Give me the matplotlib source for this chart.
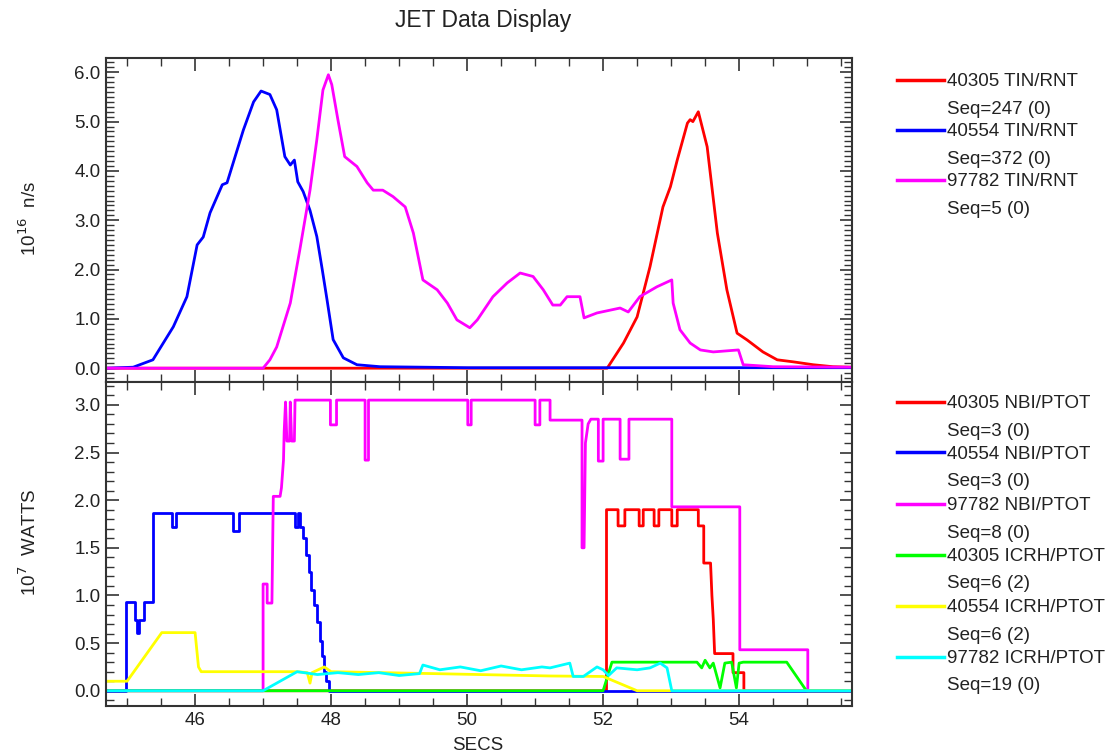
import numpy as np
import matplotlib.pyplot as plt
from matplotlib.lines import Line2D
from matplotlib.ticker import MultipleLocator

plt.rcParams['font.family'] = ['Liberation Sans', 'DejaVu Sans']

# neutron rate, 10^16 n/s
t_red_n = [44.69, 52.06, 52.3, 52.5, 52.69, 52.88, 52.99, 53.09, 53.24, 53.28, 53.32, 53.40,
           53.53, 53.68, 53.82, 53.97, 54.12, 54.35, 54.56, 54.79, 55.09, 55.38, 55.66]
y_red_n = [0.0, 0.0, 0.51, 1.04, 2.06, 3.27, 3.68, 4.22, 4.97, 5.04, 5.0, 5.2,
           4.49, 2.74, 1.59, 0.71, 0.57, 0.33, 0.17, 0.13, 0.07, 0.03, 0.02]

t_blue_n = [44.69, 45.09, 45.38, 45.68, 45.88, 46.03, 46.12, 46.22, 46.40, 46.47, 46.62, 46.71,
            46.86, 46.97, 47.1, 47.2, 47.32, 47.4, 47.46, 47.51, 47.59, 47.69, 47.79, 47.87,
            47.94, 48.03, 48.18, 48.38, 48.72, 50.0, 55.66]
y_blue_n = [0.0, 0.02, 0.17, 0.84, 1.45, 2.5, 2.66, 3.15, 3.72, 3.76, 4.43, 4.83,
            5.4, 5.62, 5.55, 5.24, 4.29, 4.12, 4.22, 3.78, 3.58, 3.2, 2.67, 2.0,
            1.39, 0.58, 0.21, 0.07, 0.03, 0.01, 0.01]

t_mag_n = [44.69, 47.0, 47.1, 47.2, 47.4, 47.54, 47.69, 47.79, 47.88, 47.96, 48.01, 48.1,
           48.2, 48.38, 48.53, 48.62, 48.76, 48.91, 49.09, 49.21, 49.35, 49.56, 49.71, 49.85,
           50.04, 50.15, 50.38, 50.59, 50.78, 50.97, 51.12, 51.26, 51.37, 51.47, 51.66, 51.72,
           51.91, 52.25, 52.37, 52.54, 52.79, 53.01, 53.03, 53.13, 53.28, 53.43, 53.62, 53.99,
           54.06, 54.5, 55.66]
y_mag_n = [0.0, 0.0, 0.17, 0.43, 1.32, 2.4, 3.61, 4.63, 5.64, 5.95, 5.75, 5.04,
           4.29, 4.09, 3.76, 3.61, 3.61, 3.48, 3.27, 2.74, 1.79, 1.59, 1.32, 0.98,
           0.82, 0.98, 1.45, 1.73, 1.93, 1.86, 1.59, 1.28, 1.28, 1.45, 1.45, 1.02,
           1.12, 1.22, 1.14, 1.45, 1.65, 1.79, 1.32, 0.78, 0.51, 0.37, 0.33, 0.37,
           0.07, 0.03, 0.02]

# heating power, 10^7 W
t_red_p = [44.69, 52.05, 52.05, 52.22, 52.22, 52.32, 52.32, 52.53, 52.53, 52.59, 52.59,
           52.75, 52.75, 52.82, 52.82, 53.01, 53.01, 53.09, 53.09, 53.40, 53.40, 53.48,
           53.48, 53.58, 53.60, 53.62, 53.64, 53.91, 53.91, 54.07, 54.07, 55.66]
y_red_p = [0.0, 0.0, 1.90, 1.90, 1.73, 1.73, 1.90, 1.90, 1.73, 1.73, 1.90,
           1.90, 1.73, 1.73, 1.90, 1.90, 1.73, 1.73, 1.90, 1.90, 1.73, 1.73,
           1.34, 1.34, 1.0, 0.75, 0.39, 0.39, 0.19, 0.19, 0.0, 0.0]

# blue beam power steps down in a staircase after 47.5 s
t_blue_p = [44.69, 44.99, 44.99, 45.12, 45.12, 45.15, 45.15, 45.18, 45.18, 45.25, 45.25,
            45.38, 45.38, 45.66, 45.66, 45.72, 45.72, 46.56, 46.56, 46.65, 46.65, 47.47,
            47.47, 47.52, 47.52, 47.55, 47.55, 47.59, 47.59, 47.63, 47.63, 47.67, 47.67,
            47.71, 47.71, 47.75, 47.75, 47.79, 47.79, 47.83, 47.83, 47.87, 47.87, 47.90,
            47.90, 47.93, 47.93, 47.97, 47.97, 55.66]
y_blue_p = [0.0, 0.0, 0.93, 0.93, 0.74, 0.74, 0.61, 0.61, 0.74, 0.74, 0.93,
            0.93, 1.87, 1.87, 1.72, 1.72, 1.87, 1.87, 1.68, 1.68, 1.87, 1.87,
            1.72, 1.72, 1.87, 1.87, 1.72, 1.72, 1.60, 1.60, 1.42, 1.42, 1.25,
            1.25, 1.06, 1.06, 0.90, 0.90, 0.72, 0.72, 0.52, 0.52, 0.36, 0.36,
            0.20, 0.20, 0.10, 0.10, 0.0, 0.0]

t_mag_p = [44.69, 47.0, 47.0, 47.06, 47.06, 47.13, 47.15, 47.25, 47.27, 47.30, 47.31, 47.33,
           47.35, 47.39, 47.40, 47.42, 47.46, 47.47, 47.99, 47.99, 48.08, 48.08, 48.5, 48.5,
           48.55, 48.55, 50.01, 50.01, 50.06, 50.06, 51.0, 51.0, 51.07, 51.07, 51.22, 51.22,
           51.69, 51.69, 51.72, 51.74, 51.78, 51.82, 51.93, 51.93, 52.0, 52.0, 52.25, 52.25,
           52.38, 52.38, 53.01, 53.01, 54.01, 54.01, 55.01, 55.01, 55.66]
y_mag_p = [0.0, 0.0, 1.12, 1.12, 0.92, 0.92, 2.04, 2.04, 2.13, 2.42, 2.72, 3.03,
           2.62, 2.62, 3.03, 2.62, 2.62, 3.05, 3.05, 2.79, 2.79, 3.05, 3.05, 2.42,
           2.42, 3.05, 3.05, 2.79, 2.79, 3.05, 3.05, 2.79, 2.79, 3.05, 3.05, 2.84,
           2.84, 1.5, 1.5, 2.6, 2.8, 2.85, 2.85, 2.41, 2.41, 2.85, 2.85, 2.43,
           2.43, 2.85, 2.85, 1.93, 1.93, 0.43, 0.43, 0.0, 0.0]

t_green_p = [44.69, 52.0, 52.13, 53.38, 53.45, 53.5, 53.57, 53.62, 53.72, 53.79, 53.89,
             53.96, 54.0, 54.06, 54.7, 54.99, 55.66]
y_green_p = [0.0, 0.0, 0.30, 0.30, 0.24, 0.32, 0.24, 0.29, 0.03, 0.29, 0.30,
             0.03, 0.29, 0.30, 0.30, 0.0, 0.0]

t_yel_p = [44.69, 45.0, 45.51, 46.0, 46.05, 46.09, 47.5, 47.65, 47.69, 47.72, 47.9, 48.0,
           49.5, 51.22, 52.0, 52.5, 55.66]
y_yel_p = [0.10, 0.10, 0.61, 0.61, 0.25, 0.20, 0.20, 0.19, 0.08, 0.19, 0.25, 0.20,
           0.18, 0.155, 0.15, 0.0, 0.0]

t_cyan_p = [44.69, 47.0, 47.5, 47.8, 48.1, 48.4, 48.7, 49.0, 49.3, 49.35, 49.6, 49.9, 50.2,
            50.5, 50.8, 51.1, 51.22, 51.51, 51.56, 51.71, 51.91, 52.0, 52.08, 52.2, 52.5,
            52.69, 52.84, 52.94, 53.01, 55.66]
y_cyan_p = [0.0, 0.0, 0.20, 0.17, 0.19, 0.17, 0.19, 0.16, 0.18, 0.27, 0.22, 0.25, 0.21,
            0.26, 0.22, 0.25, 0.24, 0.29, 0.15, 0.15, 0.25, 0.22, 0.16, 0.24, 0.22,
            0.24, 0.29, 0.24, 0.0, 0.0]

top_labels = [('40305 TIN/RNT', 'Seq=247 (0)', 'red'),
              ('40554 TIN/RNT', 'Seq=372 (0)', 'blue'),
              ('97782 TIN/RNT', 'Seq=5 (0)', 'magenta')]
bot_labels = [('40305 NBI/PTOT', 'Seq=3 (0)', 'red'),
              ('40554 NBI/PTOT', 'Seq=3 (0)', 'blue'),
              ('97782 NBI/PTOT', 'Seq=8 (0)', 'magenta'),
              ('40305 ICRH/PTOT', 'Seq=6 (2)', '#00ff00'),
              ('40554 ICRH/PTOT', 'Seq=6 (2)', 'yellow'),
              ('97782 ICRH/PTOT', 'Seq=19 (0)', 'cyan')]

W, H = 1119, 756
fig = plt.figure(figsize=(W / 100, H / 100), dpi=100)
ax1 = fig.add_axes([106 / W, 1 - 382 / H, 746 / W, 324 / H])
ax2 = fig.add_axes([106 / W, 1 - 706 / H, 746 / W, 324 / H], sharex=ax1)

lw = 2.0
ax1.plot(t_red_n, y_red_n, color='red', lw=lw)
ax1.plot(t_blue_n, y_blue_n, color='blue', lw=lw)
ax1.plot(t_mag_n, y_mag_n, color='magenta', lw=lw)

ax2.plot(t_red_p, y_red_p, color='red', lw=lw)
ax2.plot(t_blue_p, y_blue_p, color='blue', lw=lw)
ax2.plot(t_mag_p, y_mag_p, color='magenta', lw=lw)
ax2.plot(t_green_p, y_green_p, color='#00ff00', lw=lw)
ax2.plot(t_yel_p, y_yel_p, color='yellow', lw=lw)
ax2.plot(t_cyan_p, y_cyan_p, color='cyan', lw=lw)

ax1.set_xlim(44.69, 55.66)
ax1.set_ylim(-0.28, 6.29)
ax2.set_ylim(-0.16, 3.24)

for ax in (ax1, ax2):
    for s in ax.spines.values():
        s.set_color('#333333')
        s.set_linewidth(1.5)
    ax.xaxis.set_major_locator(MultipleLocator(2))
    ax.xaxis.set_minor_locator(MultipleLocator(0.5))
    ax.yaxis.set_minor_locator(MultipleLocator(0.1))
    ax.tick_params(which='both', direction='in', top=True, right=True,
                   color='#333333', labelsize=13.5, labelcolor='#222222')
    ax.tick_params(which='major', length=9, width=1.2, pad=4)
    ax.tick_params(which='minor', length=5.5, width=1.0)

ax1.yaxis.set_major_locator(MultipleLocator(1.0))
ax2.yaxis.set_major_locator(MultipleLocator(0.5))
ax1.yaxis.set_major_formatter('{x:.1f}')
ax2.yaxis.set_major_formatter('{x:.1f}')
ax1.tick_params(labelbottom=False)

fig.text(483 / W, 1 - 20 / H, 'JET Data Display', ha='center', va='center',
         fontsize=16.5, color='#222222')
fig.text(478 / W, 1 - 745 / H, 'SECS', ha='center', va='center',
         fontsize=13.5, color='#222222')
fig.text(29 / W, 1 - 219 / H, r'10$^{16}$  n/s', ha='center', va='center',
         rotation=90, fontsize=13.5, color='#222222')
fig.text(29 / W, 1 - 542 / H, r'10$^{7}$  WATTS', ha='center', va='center',
         rotation=90, fontsize=13.5, color='#222222')


def legend_rows(rows, y0, step):
    for i, (name, seq, col) in enumerate(rows):
        y = y0 + i * step
        fig.add_artist(Line2D([897 / W, 944 / W], [1 - (y - 2) / H, 1 - (y - 2) / H],
                              color=col, lw=2.5, transform=fig.transFigure))
        fig.text(947 / W, 1 - y / H, name, ha='left', va='center',
                 fontsize=13.5, color='#222222')
        fig.text(947 / W, 1 - (y + 27.5) / H, seq, ha='left', va='center',
                 fontsize=13.5, color='#222222')


legend_rows(top_labels, 81.5, 50.0)
legend_rows(bot_labels, 403.5, 51.0)

fig.savefig('out.png', dpi=100)
